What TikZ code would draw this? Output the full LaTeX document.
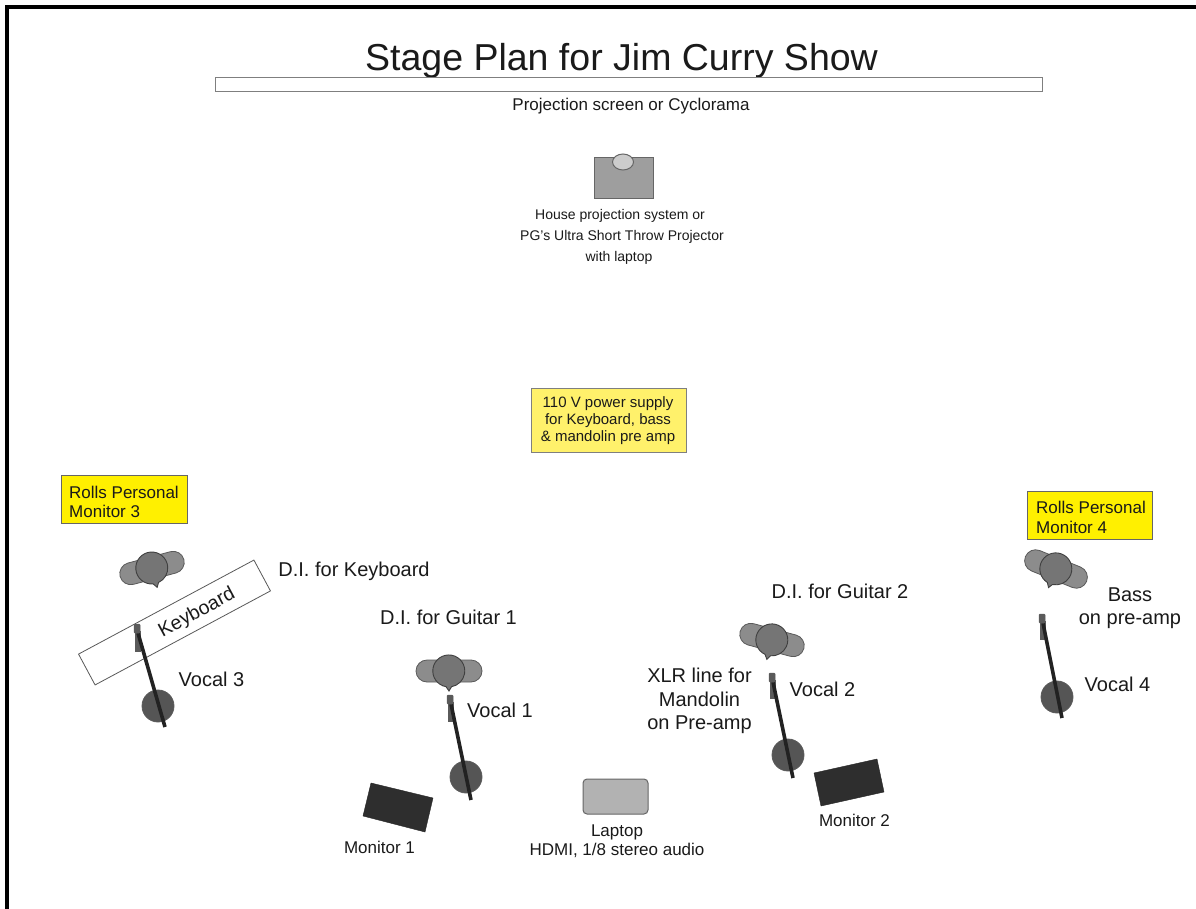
\documentclass[tikz,border=0pt]{standalone}
\usepackage{fontspec}
\setmainfont{Liberation Sans}
\definecolor{txt}{HTML}{1A1A1A}
\definecolor{capfill}{HTML}{8C8C8C}
\definecolor{capline}{HTML}{5A5A5A}
\definecolor{headfill}{HTML}{757575}
\definecolor{basefill}{HTML}{555555}
\definecolor{polecol}{HTML}{222222}
\definecolor{boxline}{HTML}{7F7F7F}
\definecolor{rollsyellow}{HTML}{FFF000}
\definecolor{poweryellow}{HTML}{FFF16B}
\tikzset{
  lab/.style={text=txt,inner sep=0pt,align=center,font=\fontsize{#1}{#1}\selectfont},
  lab/.default=20,
  yellowbox/.style={draw=boxline!80!black,line width=1pt,fill=rollsyellow},
  capsule/.style={draw=capline,line width=.8pt,fill=capfill},
  headc/.style={draw=capline!70!black,line width=.9pt,fill=headfill},
  micpole/.style={draw=polecol,line width=3.6pt},
  micbody/.style={draw=capline,line width=.6pt,fill=capline},
  blackbox/.style={draw=black!85,fill=black!82},
}
\newcommand{\diicon}[3]{%
  \begin{scope}[shift={(#1,#2)},rotate=#3]
    \draw[capsule] (-33,0) arc[x radius=11pt,y radius=11pt,start angle=180,end angle=90]
       -- (22,-11) arc[x radius=11pt,y radius=11pt,start angle=90,end angle=-90]
       -- (-22,11) arc[x radius=11pt,y radius=11pt,start angle=-90,end angle=-180] -- cycle;
    \draw[headc] (-3,15.7) arc[radius=16pt,start angle=-100,end angle=-280]
       arc[radius=16pt,start angle=80,end angle=-80] -- (0,20) -- cycle;
  \end{scope}}
\newcommand{\micstand}[7]{% head x,y  body end y  base x,y  pole end x,y
  \fill[basefill,draw=capline,line width=.8pt] (#4,#5) circle[radius=16pt];
  \draw[micbody] (#1-1.5,#2+3) rectangle (#1+3.5,#3);
  \draw[micpole] (#1+1,#2+5) -- (#6,#7);
  \draw[fill=capline,draw=capline,rounded corners=1pt,line width=.5pt] (#1-3,#2-4) rectangle (#1+3,#2+5);}
\begin{document}
\begin{tikzpicture}[x=1pt,y=-1pt]
\useasboundingbox (0,0) rectangle (1196,909);
\fill[white] (0,0) rectangle (1196,909);
% page frame
\draw[black,line width=4.2pt,line cap=butt,line join=miter] (7,909) -- (7,7.3) -- (1196,7.3);
% title and screen
\node[lab=37.5] (title) at (621.5,61) {Stage Plan for Jim Curry Show};
\draw[draw=boxline,line width=1pt,fill=white] (215.5,78) rectangle (1042,91.5);
\node[lab=17] (screen) at (631,106) {Projection screen or Cyclorama};
% projector
\draw[draw=black!60,line width=1pt,fill=black!38] (594,158) rectangle (653,199);
\draw[draw=black!60,line width=1pt,fill=black!20] (623,162) ellipse[x radius=10.5pt,y radius=8pt];
\node[lab=14] (proj1) at (620,216) {House projection system or};
\node[lab=14] (proj2) at (622,237) {PG’s Ultra Short Throw Projector};
\node[lab=14] (proj3) at (619,258) {with laptop};
% power
\draw[draw=boxline,line width=1pt,fill=poweryellow] (531,388) rectangle (686,452);
\node[lab=15,font=\fontsize{15}{17}\selectfont] (power) at (608,421) {110 V power supply\\for Keyboard, bass\\\& mandolin pre amp};
% rolls
\draw[yellowbox] (61,475) rectangle (187,523);
\node[lab=17,align=left,anchor=north west,font=\fontsize{17}{19.5}\selectfont] (r3) at (69,485.5) {Rolls Personal\\Monitor 3};
\draw[yellowbox] (1027,491) rectangle (1152,539);
\node[lab=17,align=left,anchor=north west,font=\fontsize{17}{19.5}\selectfont] (r4) at (1036,501) {Rolls Personal\\Monitor 4};
% keyboard
\node[draw=black!65,line width=.8pt,minimum width=199pt,minimum height=35pt,rotate=28.2,inner sep=0pt,fill=white] (kb) at (174.5,622.5) {};
\node[lab=19.5,rotate=28.2] (kbt) at (197,613) {Keyboard};
% DI icons
\diicon{152}{568}{15}
\diicon{449}{671}{0}
\diicon{772}{640}{-15}
\diicon{1056}{569}{-22}
% mics
\micstand{137}{628}{651}{158}{706}{165}{727}
\micstand{450}{699}{721}{466}{777}{471}{800}
\micstand{772}{677}{698}{788}{755}{793}{778}
\micstand{1042}{618}{639}{1057}{697}{1062}{718}
% labels
\node[lab=20] (dik) at (354,571.5) {D.I. for Keyboard};
\node[lab=20] (dione) at (448.5,617) {D.I. for Guitar 1};
\node[lab=20] (ditwo) at (840,591.5) {D.I. for Guitar 2};
\node[lab=20] (vthree) at (211.5,679) {Vocal 3};
\node[lab=20] (vone) at (500,710.5) {Vocal 1};
\node[lab=20] (vtwo) at (822.5,689.5) {Vocal 2};
\node[lab=20] (vfour) at (1117.5,684.5) {Vocal 4};
\node[lab=20,font=\fontsize{20}{23.5}\selectfont] (xlr) at (699.5,701) {XLR line for\\Mandolin\\on Pre-amp};
\node[lab=20,font=\fontsize{20}{23.5}\selectfont] (bass) at (1130,608) {Bass\\on pre-amp};
% monitors
\draw[blackbox] (371,783) -- (433,798) -- (425,832) -- (363,816) -- cycle;
\draw[blackbox] (814,773) -- (877,759) -- (884,792) -- (821,806) -- cycle;
\node[lab=17] (mone) at (379.5,847.5) {Monitor 1};
\node[lab=17] (mtwo) at (854.5,820) {Monitor 2};
% laptop
\draw[draw=black!60,line width=1pt,fill=black!30,rounded corners=4pt] (583,779) rectangle (648,814);
\node[lab=17,font=\fontsize{17}{19}\selectfont] (lap) at (617,841.5) {Laptop\\HDMI, 1/8 stereo audio};
\end{tikzpicture}
\end{document}
